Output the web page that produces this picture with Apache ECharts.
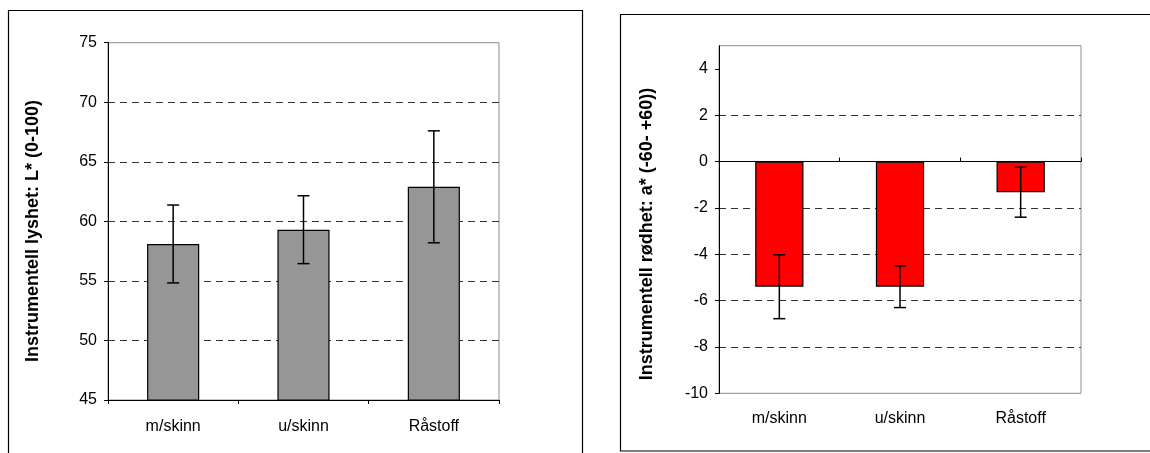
<!DOCTYPE html>
<html>
<head>
<meta charset="utf-8">
<script src="https://cdn.jsdelivr.net/npm/echarts@6/dist/echarts.min.js"></script>
<style>
  html, body { margin: 0; padding: 0; background: #fff; }
  #chart { width: 1150px; height: 453px; }
</style>
</head>
<body>
<div id="chart"></div>
<script>
// Sample groups
const categories = ['m/skinn', 'u/skinn', 'Råstoff'];

// Instrumental lightness L* (mean and standard deviation)
const lightness = [58.1, 59.3, 62.9];
const lightnessSd = [3.27, 2.85, 4.7];

// Instrumental redness a* (mean and standard deviation)
const redness = [-5.4, -5.4, -1.32];
const rednessSd = [1.38, 0.9, 1.08];

// Value-axis tick labels
const lightnessTicks = [45, 50, 55, 60, 65, 70, 75];
const rednessTicks = [-10, -8, -6, -4, -2, 0, 2, 4];

const FONT = '"Liberation Sans", Arial, sans-serif';

function errorData(means, sds) {
  return means.map((m, i) => [i, m - sds[i], m + sds[i]]);
}

function renderErrorBar(params, api) {
  const i = api.value(0);
  const lo = api.coord([i, api.value(1)]);
  const hi = api.coord([i, api.value(2)]);
  const half = 6;
  const style = { stroke: '#000', lineWidth: 1.5 };
  return {
    type: 'group',
    children: [
      { type: 'line', shape: { x1: lo[0], y1: lo[1], x2: hi[0], y2: hi[1] }, style },
      { type: 'line', shape: { x1: hi[0] - half, y1: hi[1], x2: hi[0] + half, y2: hi[1] }, style },
      { type: 'line', shape: { x1: lo[0] - half, y1: lo[1], x2: lo[0] + half, y2: lo[1] }, style }
    ]
  };
}

const labelStyle = { color: '#000', fontFamily: FONT, fontSize: 16 };
const dashed = { show: true, showMinLine: false, showMaxLine: false,
  lineStyle: { color: '#333', type: [7, 5], width: 1 } };

const chart = echarts.init(document.getElementById('chart'), null, { renderer: 'canvas' });

chart.setOption({
  animation: false,
  backgroundColor: '#fff',
  grid: [
    { left: 108, top: 42.7, width: 391, height: 357.3, show: true,
      borderColor: '#8c8c8c', borderWidth: 1, backgroundColor: 'transparent' },
    { left: 719, top: 45.7, width: 362, height: 347.6, show: true,
      borderColor: '#8c8c8c', borderWidth: 1, backgroundColor: 'transparent' }
  ],
  xAxis: [
    { type: 'category', gridIndex: 0, data: categories,
      axisLine: { show: true, lineStyle: { color: '#000', width: 1 } },
      axisTick: { show: true, length: 4, lineStyle: { color: '#000' } },
      axisLabel: Object.assign({ margin: 19 }, labelStyle),
      splitLine: { show: false } },
    { type: 'category', gridIndex: 1, data: categories, position: 'bottom',
      axisLine: { show: false, onZero: false },
      axisTick: { show: false },
      axisLabel: Object.assign({ margin: 17 }, labelStyle),
      splitLine: { show: false } },
    { type: 'category', gridIndex: 1, data: categories, position: 'bottom',
      axisLine: { show: true, onZero: true, lineStyle: { color: '#000', width: 1 } },
      axisTick: { show: true, inside: true, length: 4, lineStyle: { color: '#000' } },
      axisLabel: { show: false },
      splitLine: { show: false } }
  ],
  yAxis: [
    { type: 'value', gridIndex: 0, min: 45, max: 75, interval: 5,
      axisLine: { show: true, lineStyle: { color: '#000', width: 1 } },
      axisTick: { show: true, length: 4, customValues: lightnessTicks, lineStyle: { color: '#000' } },
      axisLabel: Object.assign({ margin: 11, customValues: lightnessTicks }, labelStyle),
      splitLine: dashed },
    { type: 'value', gridIndex: 1, min: -10, max: 5, interval: 2,
      axisLine: { show: true, onZero: false, lineStyle: { color: '#000', width: 1 } },
      axisTick: { show: true, length: 4, customValues: rednessTicks, lineStyle: { color: '#000' } },
      axisLabel: Object.assign({ margin: 11, customValues: rednessTicks }, labelStyle),
      splitLine: dashed }
  ],
  series: [
    { type: 'bar', xAxisIndex: 0, yAxisIndex: 0, data: lightness, barWidth: '40%',
      itemStyle: { color: '#969696', borderColor: '#000', borderWidth: 1.2 }, z: 3 },
    { type: 'custom', xAxisIndex: 0, yAxisIndex: 0, renderItem: renderErrorBar,
      data: errorData(lightness, lightnessSd), encode: { x: 0, y: [1, 2] }, z: 4 },
    { type: 'bar', xAxisIndex: 1, yAxisIndex: 1, data: redness, barWidth: '40%',
      itemStyle: { color: '#ff0000', borderColor: '#000', borderWidth: 1.2 }, z: 3 },
    { type: 'custom', xAxisIndex: 1, yAxisIndex: 1, renderItem: renderErrorBar,
      data: errorData(redness, rednessSd), encode: { x: 0, y: [1, 2] }, z: 4 }
  ],
  graphic: [
    // chart frames
    { type: 'rect', shape: { x: 8.5, y: 10.5, width: 574, height: 470 },
      style: { fill: 'none', stroke: '#000', lineWidth: 1.2 }, silent: true },
    { type: 'rect', shape: { x: 620.5, y: 14.5, width: 600, height: 436.5 },
      style: { fill: 'none', stroke: '#000', lineWidth: 1.2 }, silent: true },
    // axis titles
    { type: 'text', x: 33, y: 231, rotation: Math.PI / 2,
      style: { text: 'Instrumentell lyshet: L* (0-100)', font: 'bold 18px ' + FONT,
        fill: '#000', align: 'center', verticalAlign: 'middle' }, silent: true },
    { type: 'text', x: 647, y: 234, rotation: Math.PI / 2,
      style: { text: 'Instrumentell rødhet: a* (-60- +60))', font: 'bold 18px ' + FONT,
        fill: '#000', align: 'center', verticalAlign: 'middle' }, silent: true }
  ]
});
</script>
</body>
</html>
